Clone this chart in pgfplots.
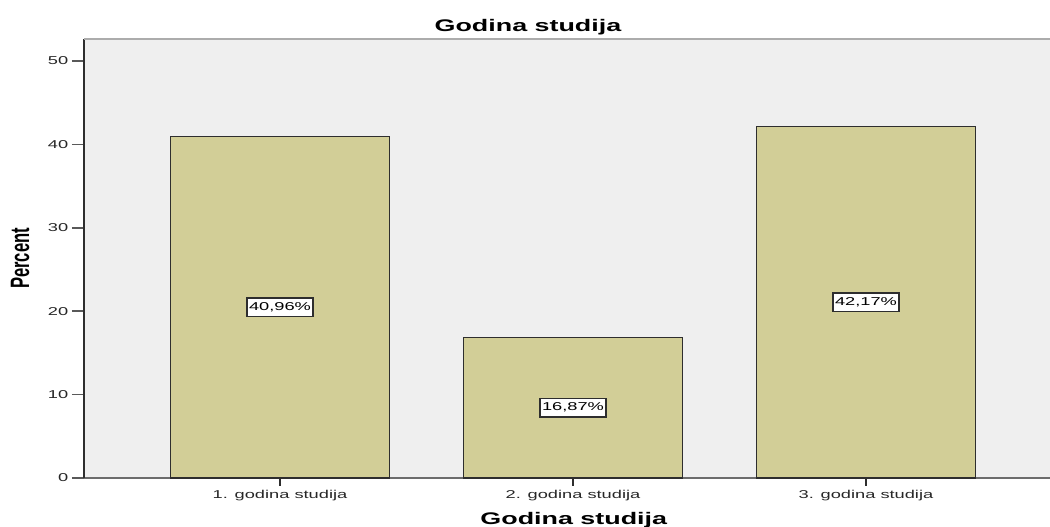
\documentclass[border=0pt]{standalone}
\usepackage{pgfplots}
\pgfplotsset{compat=1.18}
\usepackage{graphicx}
\usepackage{fontspec}
\setmainfont{Liberation Sans}[FakeStretch=1.6]
\newfontfamily\plainsans{Liberation Sans}

\definecolor{barfill}{HTML}{D2CE97}
\definecolor{plotbg}{HTML}{EFEFEF}
\definecolor{edge}{HTML}{2E2E2E}

\begin{document}
\begin{tikzpicture}
\begin{axis}[
  name=ax,
  scale only axis,
  width=966pt, height=439pt,
  xmin=-0.669, xmax=2.628,
  ymin=0, ymax=52.64,
  axis background/.style={fill=plotbg},
  axis x line*=bottom, axis y line*=left,
  axis line style={-},
  x axis line style={draw=gray!85!black, line width=1.5pt},
  y axis line style={draw=edge, line width=1.5pt},
  tick align=outside,
  xtick={0,1,2},
  xticklabels={1. godina studija, 2. godina studija, 3. godina studija},
  ytick={0,10,20,30,40,50},
  xtick style={draw=edge, line width=1.5pt, /pgfplots/major tick length=8pt},
  ytick style={draw=gray!70!black, line width=1.5pt, /pgfplots/major tick length=12pt},
  /pgf/number format/assume math mode=true,
  tick label style={font=\fontsize{11.4}{13}\selectfont, text=black!85},
  xticklabel style={anchor=base, yshift=-16pt},
  yticklabel style={anchor=east, xshift=-8pt},
  title={\bfseries Godina studija},
  title style={at={(rel axis cs:0.4596,1)}, anchor=base, yshift=1pt,
    font=\fontsize{16.8}{19}\selectfont},
  xlabel={\bfseries Godina studija},
  xlabel style={at={(rel axis cs:0.507,0)}, anchor=base, yshift=-47pt,
    font=\fontsize{16.8}{19}\selectfont},
  ylabel={\scalebox{1}[1.6]{\plainsans\bfseries Percent}},
  ylabel style={at={(rel axis cs:0,0.5)}, anchor=center, yshift=64pt,
    font=\fontsize{16.6}{19}\selectfont},
  clip=false,
]
\addplot[ybar, bar width=219pt, bar shift=0pt, fill=barfill, draw=edge, line width=1.5pt]
  coordinates {(0,40.96) (1,16.87) (2,42.17)};
% value labels at half bar height
\addplot[draw=none, mark=none, nodes near coords, point meta=explicit symbolic,
  every node near coord/.style={anchor=center, draw=edge, fill=white, line width=1.3pt,
    inner xsep=2pt, inner ysep=4.5pt, font=\fontsize{11.4}{13}\selectfont}]
  coordinates {(0,20.48) [40,96\%] (1,8.435) [16,87\%] (2,21.085) [42,17\%]};
\draw[gray!65, line width=2pt] (rel axis cs:0,1) -- (rel axis cs:1,1);
\end{axis}
\pgfresetboundingbox
\path[use as bounding box] ([shift={(-84pt,-49pt)}]ax.south west) rectangle ([shift={(0pt,39pt)}]ax.north east);
\end{tikzpicture}
\end{document}
